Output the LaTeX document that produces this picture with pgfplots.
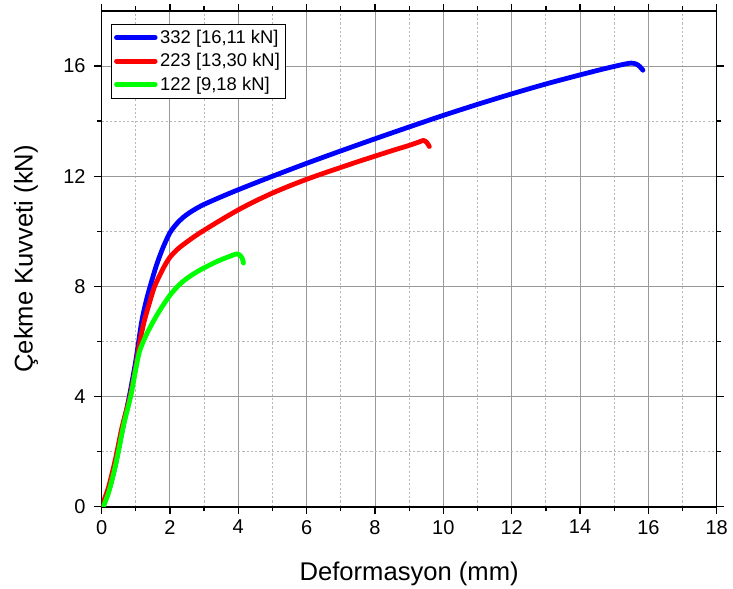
\documentclass[border=0pt]{standalone}
\usepackage{fontspec}
\setmainfont{Liberation Sans}
\usepackage{pgfplots}
\pgfplotsset{compat=1.18}

\definecolor{cBlue}{RGB}{0,0,255}
\definecolor{cRed}{RGB}{255,0,0}
\definecolor{cGreen}{RGB}{0,255,0}

\begin{document}
\begin{tikzpicture}
\begin{axis}[
  name=ax,
  scale only axis,
  width=461.3pt, height=371.8pt,
  xmin=0, xmax=18, ymin=0, ymax=18,
  xtick={0,2,...,18}, ytick={0,4,...,16},
  minor x tick num=1, minor y tick num=1,
  grid=both,
  major grid style={draw=black!40, line width=0.7pt},
  minor grid style={draw=black!28, line width=0.6pt, dash pattern=on 1.6pt off 1.6pt},
  tick align=outside,
  major tick length=5.5pt, minor tick length=3.5pt,
  every tick/.style={black, line width=1.0pt},
  axis line style={black, line width=1.1pt},
  /pgf/number format/assume math mode=true,
  tick label style={font=\fontsize{15}{18}\selectfont},
  xticklabel style={yshift=-1pt},
  yticklabel style={xshift=-3pt},
  label style={font=\fontsize{19.2}{23}\selectfont},
  xlabel={Deformasyon (mm)},
  ylabel={Çekme Kuvveti (kN)},
  xlabel style={yshift=-14pt},
  ylabel style={yshift=12pt},
  legend style={at={(rel axis cs:0.0153,0.974)}, anchor=north west,
    draw=black, line width=0.6pt, font=\fontsize{13.8}{16}\selectfont,
    inner xsep=2pt, inner ysep=2.2pt, row sep=2.2pt, cells={anchor=west}},
  legend image code/.code={\draw[#1, line width=3.6pt] (0pt,0pt) -- (29pt,0pt);},
  every axis plot/.append style={line width=3.6pt, line join=round, line cap=round,
    smooth, tension=0.45},
]
% Specimen 332
\addplot[cBlue] coordinates {
 (0,0) (0.2,0.55) (0.4,1.5) (0.6,2.75) (0.81,4.0) (1.0,5.3) (1.17,6.7) (1.3,7.45)
 (1.42,8.0) (1.6,8.75) (1.8,9.42) (2.0,9.95) (2.2,10.28) (2.4,10.52) (2.6,10.7)
 (2.8,10.85) (3.0,10.98) (3.4,11.2) (3.8,11.41) (4.3,11.66) (5.0,12.0)
 (6.0,12.47) (7.0,12.92) (8.0,13.36) (9.0,13.79) (10.0,14.21) (11.0,14.61)
 (12.0,14.99) (13.0,15.35) (14.0,15.68) (14.8,15.93) (15.3,16.07) (15.5,16.11)
 (15.65,16.07) (15.75,15.98) (15.84,15.85)
};
\addlegendentry{332 [16,11 kN]}
% Specimen 223
\addplot[cRed] coordinates {
 (0,0) (0.2,0.7) (0.4,1.7) (0.6,2.9) (0.83,4.0) (1.0,5.1) (1.12,6.0) (1.25,6.75)
 (1.4,7.4) (1.55,8.0) (1.8,8.65) (2.0,9.06) (2.25,9.38) (2.5,9.62) (2.75,9.84)
 (3.0,10.04) (3.5,10.42) (4.0,10.78) (4.5,11.1) (5.0,11.39) (5.5,11.65)
 (6.0,11.89) (6.5,12.11) (7.0,12.32) (7.5,12.53) (8.0,12.73) (8.5,12.93)
 (9.0,13.12) (9.3,13.25) (9.42,13.3) (9.52,13.22) (9.59,13.08)
};
\addlegendentry{223 [13,30 kN]}
% Specimen 122
\addplot[cGreen] coordinates {
 (0.05,0) (0.2,0.5) (0.35,1.2) (0.49,2.0) (0.65,3.0) (0.85,4.0) (1.0,5.0)
 (1.1,5.6) (1.22,6.0) (1.37,6.4) (1.6,6.92) (1.8,7.32) (2.0,7.68) (2.2,7.97)
 (2.4,8.2) (2.6,8.38) (2.83,8.56) (3.1,8.74) (3.4,8.92) (3.7,9.07) (3.95,9.18)
 (4.06,9.12) (4.12,9.0) (4.15,8.85)
};
\addlegendentry{122 [9,18 kN]}
\end{axis}
\pgfresetboundingbox
\path[use as bounding box] ([xshift=-76.2pt,yshift=-61pt]ax.south west)
  rectangle ([xshift=12.2pt,yshift=8.25pt]ax.north east);
\end{tikzpicture}
\end{document}
